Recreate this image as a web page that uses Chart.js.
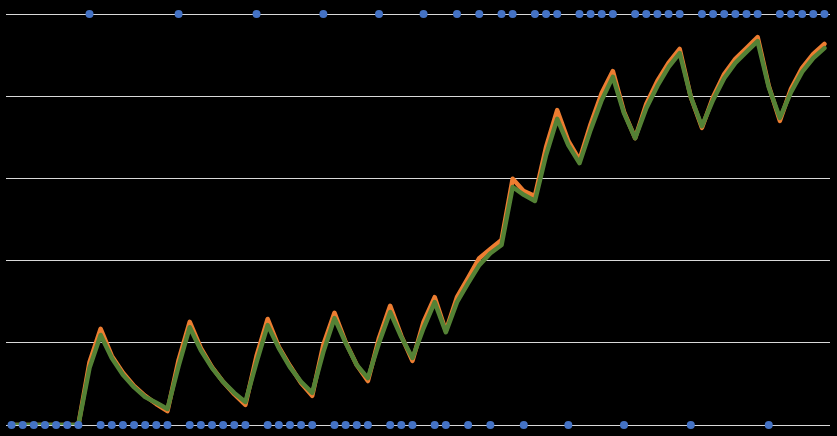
<!DOCTYPE html>
<html>
<head>
<meta charset="utf-8">
<script src="https://cdn.jsdelivr.net/npm/chart.js@4/dist/chart.umd.min.js"></script>
<style>
	html, body { margin: 0; padding: 0; background: #000; }
	#wrap { width: 837px; height: 436px; }
</style>
</head>
<body>
<div id="wrap"><canvas id="target"></canvas></div>
<script>
const steps = Array.from({ length: 74 }, (_, i) => String(i + 1));

// on/off signal (blue dots)
const signal = [
	0, 0, 0, 0, 0, 0, 0, 1, 0, 0, 0, 0, 0, 0, 0, 1, 0, 0, 0, 0,
	0, 0, 1, 0, 0, 0, 0, 0, 1, 0, 0, 0, 0, 1, 0, 0, 0, 1, 0, 0,
	1, 0, 1, 0, 1, 1, 0, 1, 1, 1, 0, 1, 1, 1, 1, 0, 1, 1, 1, 1,
	1, 0, 1, 1, 1, 1, 1, 1, 0, 1, 1, 1, 1, 1
];

// orange series
const seriesA = [
	0, 0, 0, 0, 0, 0, 0, 0.153, 0.234, 0.168, 0.127, 0.095, 0.071, 0.051, 0.034, 0.158, 0.251, 0.187, 0.141, 0.105,
	0.075, 0.049, 0.168, 0.258, 0.190, 0.144, 0.102, 0.071, 0.195, 0.273, 0.202, 0.146, 0.107, 0.212, 0.290, 0.217, 0.156, 0.251, 0.311, 0.229,
	0.311, 0.358, 0.406, 0.428, 0.450, 0.599, 0.569, 0.557, 0.676, 0.766, 0.691, 0.645, 0.732, 0.808, 0.861, 0.762, 0.698, 0.781, 0.837, 0.881,
	0.915, 0.798, 0.723, 0.798, 0.854, 0.891, 0.917, 0.944, 0.825, 0.740, 0.818, 0.869, 0.903, 0.927
];

// green series
const seriesB = [
	0, 0, 0, 0, 0, 0, 0, 0.139, 0.219, 0.163, 0.122, 0.092, 0.068, 0.054, 0.039, 0.144, 0.238, 0.182, 0.139, 0.105,
	0.078, 0.056, 0.153, 0.243, 0.187, 0.141, 0.105, 0.078, 0.178, 0.260, 0.200, 0.146, 0.114, 0.200, 0.275, 0.214, 0.163, 0.236, 0.299, 0.226,
	0.299, 0.345, 0.389, 0.418, 0.438, 0.579, 0.560, 0.545, 0.657, 0.745, 0.681, 0.637, 0.718, 0.791, 0.847, 0.759, 0.698, 0.771, 0.825, 0.871,
	0.905, 0.798, 0.727, 0.791, 0.844, 0.881, 0.908, 0.934, 0.822, 0.747, 0.810, 0.859, 0.893, 0.917
];

const yTicks = { min: 0, max: 1, step: 0.2 };

new Chart(document.getElementById('target'), {
	type: 'line',
	data: {
		labels: steps,
		datasets: [{
			data: signal,
			showLine: false,
			pointRadius: 4,
			pointBackgroundColor: '#4472C4',
			pointBorderColor: '#4472C4',
			pointBorderWidth: 0,
			clip: false
		}, {
			data: seriesB,
			borderColor: '#548235',
			borderWidth: 4.5,
			pointRadius: 0,
			tension: 0,
			borderJoinStyle: 'round',
			borderCapStyle: 'round'
		}, {
			data: seriesA,
			borderColor: '#ED7D31',
			borderWidth: 4.5,
			pointRadius: 0,
			tension: 0,
			borderJoinStyle: 'round',
			borderCapStyle: 'round'
		}]
	},
	options: {
		responsive: true,
		maintainAspectRatio: false,
		animation: false,
		layout: { padding: { left: 6, right: 7, top: 14, bottom: 11 } },
		plugins: { legend: { display: false }, tooltip: { enabled: false } },
		scales: {
			x: { display: false, offset: true },
			y: {
				min: yTicks.min,
				max: yTicks.max,
				ticks: { display: false, stepSize: yTicks.step },
				border: { display: false },
				grid: { color: '#d9d9d9', lineWidth: 1, drawTicks: false, tickLength: 0 }
			}
		}
	}
});
</script>
</body>
</html>
